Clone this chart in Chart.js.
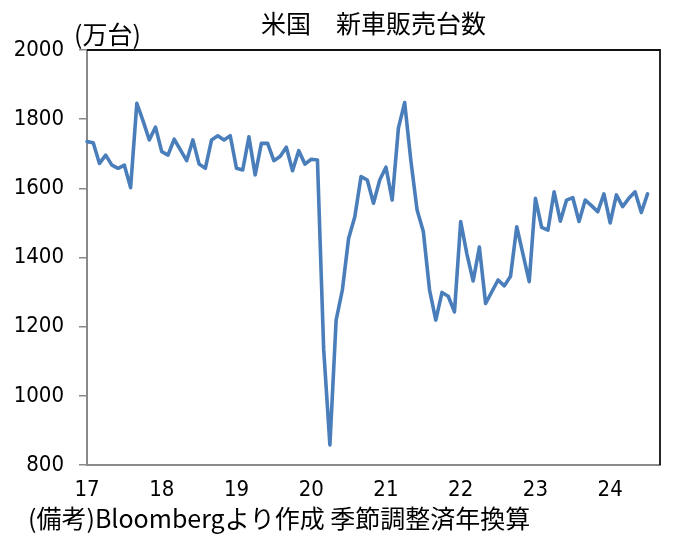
<!DOCTYPE html>
<html lang="ja">
<head>
<meta charset="utf-8">
<title>米国 新車販売台数</title>
<script src="https://cdn.jsdelivr.net/npm/chart.js@4.4.1/dist/chart.umd.min.js"></script>
<style>
  html, body { margin: 0; padding: 0; background: #fff; }
  #wrap { width: 683px; height: 542px; position: relative; }
</style>
</head>
<body>
<div id="wrap"><canvas id="salesChart"></canvas></div>
<script>
// 米国 新車販売台数 (万台, 季節調整済年換算), monthly from Jan 2017
const years = ['17', '18', '19', '20', '21', '22', '23', '24'];
const v2017 = [1735, 1732, 1672, 1696, 1667, 1658, 1667, 1602, 1846, 1795, 1740, 1777];
const v2018 = [1706, 1696, 1742, 1711, 1680, 1740, 1670, 1658, 1740, 1752, 1740, 1752];
const v2019 = [1658, 1653, 1749, 1639, 1730, 1730, 1680, 1692, 1719, 1651, 1709, 1670];
const v2020 = [1684, 1682, 1135, 858, 1219, 1306, 1455, 1518, 1634, 1624, 1557, 1624];
const v2021 = [1661, 1566, 1774, 1848, 1680, 1537, 1475, 1306, 1219, 1299, 1288, 1243];
const v2022 = [1504, 1410, 1332, 1430, 1267, 1301, 1335, 1318, 1346, 1489, 1410, 1330];
const v2023 = [1571, 1487, 1479, 1590, 1505, 1566, 1573, 1504, 1566, 1550, 1532, 1584];
const v2024 = [1500, 1581, 1547, 1571, 1590, 1530, 1584];
const emptyMonths = 2; // axis runs on to Sep 24

const chartTitle = '米国　新車販売台数';
const unitLabel = '(万台)';
const sourceNote = '(備考)Bloombergより作成 季節調整済年換算';

const values = [].concat(v2017, v2018, v2019, v2020, v2021, v2022, v2023, v2024);

// month categories like "17/1", trimmed to the span of the axis
const labels = [];
years.forEach(y => {
    for (let m = 1; m <= 12; m++) labels.push(y + '/' + m);
});
labels.length = values.length + emptyMonths;

const tickFont = { family: "'DejaVu Sans Condensed', 'DejaVu Sans', sans-serif", size: 22 };
const axisGray = '#898989';

// title, unit, note and the dark top/right frame
const frameAndText = {
    id: 'frameAndText',
    afterDraw(chart) {
        const { ctx, chartArea: a } = chart;
        ctx.save();
        ctx.strokeStyle = '#111';
        ctx.lineWidth = 1.8;
        ctx.beginPath();
        ctx.moveTo(a.left, a.top);
        ctx.lineTo(a.right, a.top);
        ctx.lineTo(a.right, a.bottom);
        ctx.stroke();

        ctx.fillStyle = '#000';
        ctx.textBaseline = 'middle';
        ctx.textAlign = 'center';
        ctx.font = "25px 'Noto Sans CJK JP'";
        ctx.fillText(chartTitle, (a.left + a.right) / 2, 23);
        ctx.textAlign = 'left';
        ctx.fillText(unitLabel, 74, 34);
        ctx.fillText(sourceNote, 28, 518);
        ctx.restore();
    }
};

new Chart(document.getElementById('salesChart'), {
    type: 'line',
    data: {
        labels: labels,
        datasets: [{
            data: values,
            borderColor: '#4a7ebb',
            borderWidth: 3.6,
            borderJoinStyle: 'round',
            borderCapStyle: 'round',
            pointRadius: 0,
            tension: 0,
            fill: false
        }]
    },
    options: {
        responsive: true,
        maintainAspectRatio: false,
        animation: false,
        layout: { padding: { left: 0, top: 50, right: 23, bottom: 0 } },
        plugins: {
            legend: { display: false },
            tooltip: { enabled: false }
        },
        scales: {
            x: {
                type: 'category',
                offset: false,
                grid: { display: true, drawOnChartArea: false, drawTicks: false },
                border: { display: true, color: axisGray, width: 2 },
                ticks: {
                    autoSkip: false,
                    maxRotation: 0,
                    padding: 12,
                    color: '#000',
                    font: tickFont,
                    callback: function (val) {
                        const l = this.getLabelForValue(val);
                        return l.endsWith('/1') ? l.split('/')[0] : '';
                    }
                },
                afterFit: scale => { scale.height = 77; }
            },
            y: {
                min: 800,
                max: 2000,
                grid: { display: true, drawOnChartArea: false, drawTicks: true, tickLength: 8, color: axisGray, lineWidth: 1.5 },
                border: { display: true, color: axisGray, width: 2 },
                ticks: {
                    stepSize: 200,
                    padding: 15,
                    color: '#000',
                    font: tickFont,
                    callback: v => String(v)
                },
                afterFit: scale => { scale.width = 87; }
            }
        }
    },
    plugins: [frameAndText]
});
</script>
</body>
</html>
